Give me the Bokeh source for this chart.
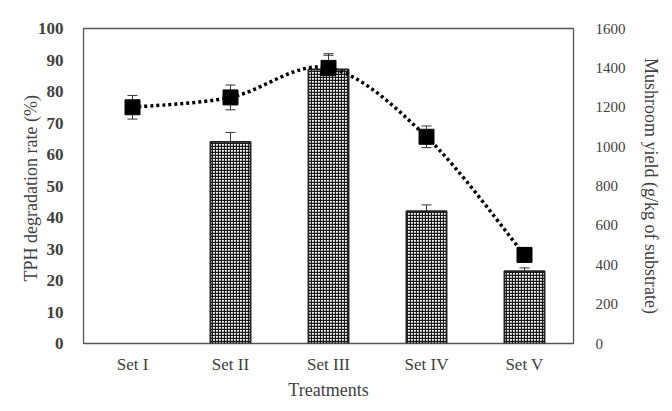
from bokeh.plotting import figure
from bokeh.models import Range1d, LinearAxis, FixedTicker, Whisker, ColumnDataSource, TeeHead
from bokeh.embed import file_html
from bokeh.resources import INLINE

categories = ["Set I", "Set II", "Set III", "Set IV", "Set V"]
tph_rate = [float("nan"), 64, 87, 42, 23]
tph_err = [0, 3, 4.5, 2, 1]
yield_vals = [1200, 1250, 1400, 1050, 450]
yield_err = [60, 63, 72, 55, 0]

xs = list(range(1, len(categories) + 1))
FONT = "Liberation Serif"
TXT = "#404040"

p = figure(width=664, height=403, x_range=Range1d(0.5, 5.5), y_range=Range1d(0, 100),
           output_backend="svg", toolbar_location=None,
           min_border_left=83, min_border_top=28, min_border_bottom=60, min_border_right=91)
p.extra_y_ranges = {"yield": Range1d(0, 1600)}
p.xgrid.visible = False
p.ygrid.visible = False
p.outline_line_color = "#555555"
p.outline_line_width = 1.3

# bars
bar_src = ColumnDataSource(dict(x=xs, top=tph_rate, up=[t + e for t, e in zip(tph_rate, tph_err)]))
p.vbar(x="x", top="top", width=0.41, source=bar_src, fill_color="white", line_color="#222222",
       line_width=1.8, hatch_pattern="+", hatch_color="#1a1a1a", hatch_scale=3, hatch_weight=1.3)
bw = Whisker(base="x", upper="up", lower="top", source=bar_src, line_color="#333333", line_width=1,
             upper_head=TeeHead(size=10, line_color="#333333", line_width=1), lower_head=None)
p.add_layout(bw)

# smooth dotted curve (Catmull-Rom -> cubic Bezier) through yield markers
n = len(xs)
x0s, y0s, x1s, y1s, cx0, cy0, cx1, cy1 = [], [], [], [], [], [], [], []
for i in range(n - 1):
    pa = (xs[i - 1], yield_vals[i - 1]) if i > 0 else (xs[i], yield_vals[i])
    pb = (xs[i], yield_vals[i])
    pc = (xs[i + 1], yield_vals[i + 1])
    pd = (xs[i + 2], yield_vals[i + 2]) if i + 2 < n else pc
    x0s.append(pb[0]); y0s.append(pb[1]); x1s.append(pc[0]); y1s.append(pc[1])
    cx0.append(pb[0] + (pc[0] - pa[0]) / 6); cy0.append(pb[1] + (pc[1] - pa[1]) / 6)
    cx1.append(pc[0] - (pd[0] - pb[0]) / 6); cy1.append(pc[1] - (pd[1] - pb[1]) / 6)
p.bezier(x0=x0s, y0=y0s, x1=x1s, y1=y1s, cx0=cx0, cy0=cy0, cx1=cx1, cy1=cy1,
         line_color="black", line_width=3.5, line_dash="3 3", y_range_name="yield")

y_src = ColumnDataSource(dict(x=xs, y=yield_vals, up=[v + e for v, e in zip(yield_vals, yield_err)],
                              lo=[v - e for v, e in zip(yield_vals, yield_err)]))
yw = Whisker(base="x", upper="up", lower="lo", source=y_src, y_range_name="yield",
             line_color="#333333", line_width=1,
             upper_head=TeeHead(size=10, line_color="#333333", line_width=1),
             lower_head=TeeHead(size=10, line_color="#333333", line_width=1))
p.add_layout(yw)
p.scatter(x="x", y="y", source=y_src, marker="square", size=15, fill_color="black",
          line_color="black", y_range_name="yield")

# axes
xa = p.xaxis[0]
xa.ticker = FixedTicker(ticks=xs)
xa.major_label_overrides = {x: c for x, c in zip(xs, categories)}
xa.axis_label = "Treatments"
xa.major_tick_line_color = None
xa.minor_tick_line_color = None
xa.axis_line_color = None
xa.major_label_text_font = FONT
xa.major_label_text_font_size = "17px"
xa.major_label_text_color = TXT
xa.major_label_standoff = 5
xa.axis_label_text_font = FONT
xa.axis_label_text_font_style = "normal"
xa.axis_label_text_font_size = "18px"
xa.axis_label_text_color = TXT
xa.axis_label_standoff = 3

ya = p.yaxis[0]
ya.ticker = FixedTicker(ticks=list(range(0, 101, 10)))
ya.axis_label = "TPH  degradation rate (%)"
ya.major_tick_line_color = None
ya.minor_tick_line_color = None
ya.axis_line_color = None
ya.major_label_text_font = FONT
ya.major_label_text_font_style = "bold"
ya.major_label_text_font_size = "17px"
ya.major_label_text_color = TXT
ya.major_label_standoff = 14
ya.axis_label_text_font = FONT
ya.axis_label_text_font_style = "normal"
ya.axis_label_text_font_size = "18px"
ya.axis_label_text_color = TXT
ya.axis_label_standoff = -6

ra = LinearAxis(y_range_name="yield", ticker=FixedTicker(ticks=list(range(0, 1601, 200))),
                axis_label="Mushroom yield (g/kg of substrate)")
ra.major_tick_line_color = None
ra.minor_tick_line_color = None
ra.axis_line_color = None
ra.major_label_text_font = FONT
ra.major_label_text_font_size = "15px"
ra.major_label_text_color = TXT
ra.major_label_standoff = 16
ra.axis_label_text_font = FONT
ra.axis_label_text_font_style = "normal"
ra.axis_label_text_font_size = "18px"
ra.axis_label_text_color = TXT
ra.axis_label_standoff = 12
ra.axis_label_orientation = "vertical"
p.add_layout(ra, "right")

open("out.html", "w").write(file_html(p, INLINE))
